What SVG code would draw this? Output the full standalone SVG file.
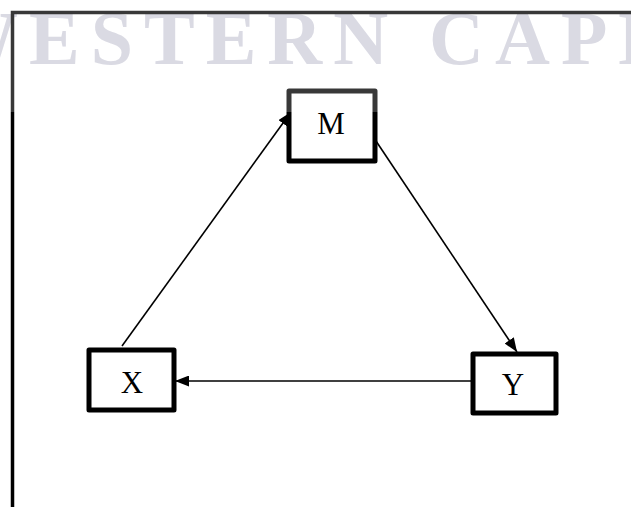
<svg xmlns="http://www.w3.org/2000/svg" width="631" height="507" viewBox="0 0 631 507">
<style>
.box{fill:#fff;stroke:#000;stroke-width:5;stroke-linejoin:round}
.lbl{font-family:"Liberation Serif","Times New Roman",serif;font-size:31px;fill:#000;text-anchor:middle}
.wm{font-family:"Liberation Serif","Times New Roman",serif;font-size:76px;font-weight:bold;fill:#d0d0dc;letter-spacing:11px}
.edge{stroke:#000;stroke-width:1.6;fill:none}
</style>
<defs>
<marker id="ah" viewBox="0 0 14 11" refX="14" refY="5.5" markerWidth="14" markerHeight="11" markerUnits="userSpaceOnUse" orient="auto">
<path d="M0,0 L14,5.5 L0,11 z" fill="#000"/>
</marker>
</defs>
<rect width="631" height="507" fill="#fff"/>
<text class="wm" x="-58" y="64">WESTERN CAPE</text>
<path d="M12.5,507 V12.5 H631" fill="none" stroke="#000" stroke-width="3.5"/>
<g id="edges">
<line class="edge" x1="122" y1="346" x2="291" y2="112" marker-end="url(#ah)"/>
<line class="edge" x1="376" y1="141" x2="517" y2="352" marker-end="url(#ah)"/>
<line class="edge" x1="471" y1="381" x2="175" y2="381" marker-end="url(#ah)"/>
</g>
<g id="node-M">
<rect class="box" x="289" y="91" width="86" height="70"/>
<text class="lbl" x="331" y="134">M</text>
</g>
<g id="node-X">
<rect class="box" x="89" y="350" width="85" height="60"/>
<text class="lbl" x="132" y="393">X</text>
</g>
<g id="node-Y">
<rect class="box" x="473" y="354" width="83" height="59"/>
<text class="lbl" x="513" y="395">Y</text>
</g>
<rect x="0" y="0" width="631" height="112" fill="#fff" opacity="0.22"/>
</svg>
